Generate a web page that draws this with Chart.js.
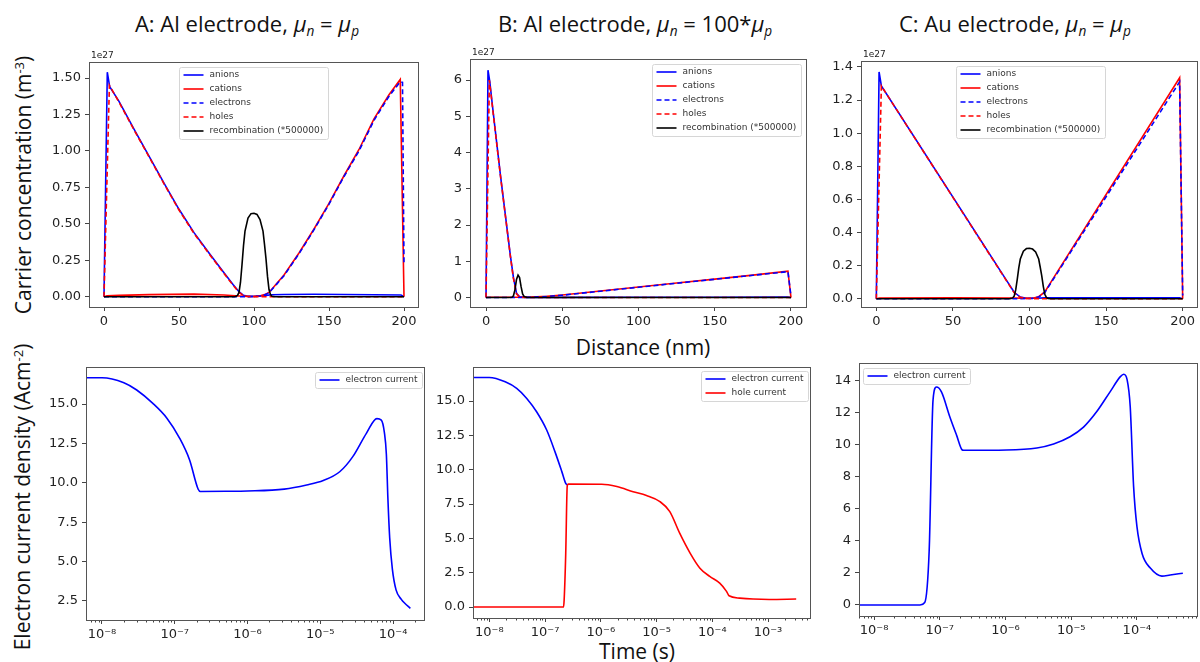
<!DOCTYPE html>
<html>
<head>
<meta charset="utf-8">
<script src="https://cdn.jsdelivr.net/npm/chart.js@4.4.0/dist/chart.umd.min.js"></script>
<style>
  body { margin: 0; width: 1200px; height: 662px; overflow: hidden; background: #fff; position: relative; font-family: 'Open Sans', sans-serif; }
  canvas { position: absolute; }
  .t { position: absolute; color: #111; white-space: nowrap; font-size: 21px; transform: translate(-50%, -50%); }
  .h { font-size: 22px; }
  .r { transform: translate(-50%, -50%) rotate(-90deg); }
  sub { font-size: 62%; vertical-align: -0.25em; }
  sup { font-size: 62%; vertical-align: 0.55em; }
</style>
</head>
<body>
<div class="t h" style="left:247px; top:24px;">A: Al electrode, <i>μ<sub>n</sub></i> = <i>μ<sub>p</sub></i></div>
<div class="t h" style="left:635px; top:24px;">B: Al electrode, <i>μ<sub>n</sub></i> = 100*<i>μ<sub>p</sub></i></div>
<div class="t h" style="left:1015px; top:24px;">C: Au electrode, <i>μ<sub>n</sub></i> = <i>μ<sub>p</sub></i></div>
<div class="t r" style="left:23px; top:185px;">Carrier concentration (m<sup>-3</sup>)</div>
<div class="t r" style="left:22px; top:497px;">Electron current density (Acm<sup>-2</sup>)</div>
<div class="t" style="left:643px; top:347px;">Distance (nm)</div>
<div class="t" style="left:637px; top:651px;">Time (s)</div>

<canvas id="ta"></canvas>
<canvas id="tb"></canvas>
<canvas id="tc"></canvas>
<canvas id="ba"></canvas>
<canvas id="bb"></canvas>
<canvas id="bc"></canvas>

<script>
// ---- data (concentrations in units of 1e27 m^-3, distance in nm) ----

// A: Al electrode, mu_n = mu_p
const A_anionsX = [0, 2.2, 3.8, 10, 20, 30, 40, 50, 60, 70, 80, 86, 90, 93, 96, 100, 104, 108, 112, 120, 140, 160, 180, 198, 200];
const A_anionsY = [0, 1.54, 1.44, 1.34, 1.15, 0.965, 0.78, 0.60, 0.44, 0.30, 0.165, 0.085, 0.035, 0.01, 0.003, 0.003, 0.006, 0.01, 0.014, 0.016, 0.017, 0.016, 0.014, 0.012, 0];
const A_cationsX = [0, 2, 10, 30, 60, 80, 90, 96, 100, 104, 107, 110, 115, 120, 130, 140, 150, 160, 170, 180, 190, 197.5, 200];
const A_cationsY = [0, 0.006, 0.01, 0.015, 0.018, 0.012, 0.005, 0.002, 0.002, 0.006, 0.015, 0.03, 0.09, 0.15, 0.30, 0.465, 0.64, 0.83, 1.01, 1.22, 1.385, 1.49, 0];
const A_electronsX = [0, 10, 50, 90, 96, 100, 104, 107, 110, 115, 120, 130, 140, 150, 160, 170, 180, 190, 197.5, 199, 200];
const A_electronsY = [0, 0, 0, 0, 0.001, 0.002, 0.005, 0.013, 0.027, 0.085, 0.145, 0.295, 0.46, 0.635, 0.825, 1.0, 1.21, 1.375, 1.475, 1.47, 0.22];
const A_holesX = [0, 3.6, 10, 20, 30, 40, 50, 60, 70, 80, 86, 90, 93, 96, 100, 104, 110, 200];
const A_holesY = [0, 1.45, 1.335, 1.145, 0.96, 0.775, 0.595, 0.435, 0.295, 0.16, 0.08, 0.03, 0.008, 0.002, 0.001, 0, 0, 0];
const A_recombX = [0, 80, 87, 88, 89, 90, 91, 92, 93, 94, 96, 98, 100, 102, 104, 106, 107, 108, 109, 110, 111, 112, 114, 200];
const A_recombY = [0, 0, 0, 0.003, 0.01, 0.03, 0.1, 0.22, 0.35, 0.45, 0.54, 0.57, 0.573, 0.565, 0.53, 0.45, 0.36, 0.26, 0.14, 0.05, 0.015, 0.004, 0, 0];

// B: Al electrode, mu_n = 100*mu_p
const B_anionsX = [0, 1.3, 2.5, 4.6, 9.4, 16, 18, 20, 22, 25, 50, 100, 150, 198, 200];
const B_anionsY = [0, 6.27, 5.95, 5.15, 3.4, 1.15, 0.55, 0.12, 0.02, 0.005, 0.006, 0.008, 0.01, 0.012, 0];
const B_cationsX = [0, 2, 20, 30, 40, 50, 75, 100, 125, 150, 175, 198, 200];
const B_cationsY = [0, 0.01, 0.01, 0.015, 0.035, 0.07, 0.18, 0.29, 0.40, 0.51, 0.62, 0.73, 0];
const B_electronsX = [0, 20, 30, 40, 50, 75, 100, 125, 150, 175, 198, 200];
const B_electronsY = [0, 0, 0.01, 0.03, 0.065, 0.175, 0.285, 0.395, 0.505, 0.615, 0.715, 0.04];
const B_holesX = [0, 2.2, 4.6, 9.4, 16, 18, 20, 22, 25, 200];
const B_holesY = [0, 6.0, 5.12, 3.38, 1.13, 0.52, 0.1, 0.015, 0.003, 0];
const B_recombX = [0, 15, 17, 18, 19, 20, 21, 22, 23, 24, 25, 27, 30, 200];
const B_recombY = [0, 0, 0.01, 0.05, 0.22, 0.5, 0.62, 0.55, 0.3, 0.1, 0.03, 0.003, 0, 0];

// C: Au electrode, mu_n = mu_p
const C_anionsX = [0, 1.8, 3.3, 85, 90, 94, 98, 104, 110, 150, 198, 200];
const C_anionsY = [0, 1.37, 1.285, 0.111, 0.039, 0.01, 0.003, 0.003, 0.005, 0.006, 0.006, 0];
const C_cationsX = [0, 2, 50, 90, 98, 102, 106, 110, 115, 198, 200];
const C_cationsY = [0, 0.004, 0.005, 0.004, 0.002, 0.003, 0.012, 0.041, 0.115, 1.335, 0];
const C_electronsX = [0, 90, 98, 102, 106, 110, 115, 198, 200];
const C_electronsY = [0, 0, 0.001, 0.002, 0.01, 0.038, 0.11, 1.31, 0.02];
const C_holesX = [0, 3.3, 85, 90, 94, 98, 102, 110, 200];
const C_holesY = [0, 1.285, 0.108, 0.036, 0.008, 0.002, 0.001, 0, 0];
const C_recombX = [0, 80, 87, 88, 89, 90, 91, 92, 93, 94, 96, 98, 100, 102, 104, 106, 107, 108, 109, 110, 111, 112, 114, 200];
const C_recombY = [0, 0, 0, 0.002, 0.005, 0.016, 0.053, 0.117, 0.186, 0.24, 0.287, 0.303, 0.305, 0.3, 0.282, 0.24, 0.19, 0.138, 0.075, 0.027, 0.008, 0.002, 0, 0];

// current density vs time (A cm^-2, s)
const A_timeE = [6.2e-9, 1e-8, 2e-8, 3e-8, 5e-8, 7.8e-8, 1.17e-7, 1.6e-7, 2.1e-7, 2.25e-7, 5e-7, 1e-6, 3.2e-6, 6.5e-6, 1.1e-5, 1.85e-5, 2.8e-5, 4.3e-5, 6e-5, 6.9e-5, 7.6e-5, 8.1e-5, 8.5e-5, 9e-5, 9.8e-5, 1.1e-4, 1.3e-4, 1.45e-4, 1.73e-4];
const A_currE = [16.67, 16.67, 16.35, 15.89, 15.04, 14.1, 12.82, 11.45, 9.59, 9.45, 9.46, 9.48, 9.6, 9.86, 10.14, 10.7, 11.66, 13.14, 14.07, 13.98, 13.2, 11.8, 9.0, 6.5, 4.5, 3.2, 2.6, 2.35, 2.03];

const B_timeE = [5.2e-9, 1e-8, 1.93e-8, 3.1e-8, 4.7e-8, 7.1e-8, 1.07e-7, 1.51e-7, 2e-7, 2.35e-7, 2.5e-7];
const B_currE = [16.72, 16.72, 16.4, 15.92, 15.19, 14.2, 12.89, 11.3, 9.86, 9.0, 8.9];
const B_timeH = [5.2e-9, 2.14e-7, 2.2e-7, 2.35e-7, 2.5e-7, 2.6e-7, 1.04e-6, 1.94e-6, 3.8e-6, 6.6e-6, 1.15e-5, 1.73e-5, 2.6e-5, 4e-5, 6e-5, 9e-5, 1.36e-4, 1.8e-4, 2.0e-4, 3.1e-4, 5.4e-4, 1.05e-3, 3.2e-3];
const B_currH = [0, 0, 0.5, 3.9, 8.8, 8.95, 8.94, 8.77, 8.4, 8.12, 7.68, 6.95, 5.38, 3.93, 2.83, 2.23, 1.74, 1.14, 0.82, 0.65, 0.58, 0.55, 0.58];

const C_timeE = [5.8e-9, 5e-8, 5.9e-8, 6.9e-8, 7.9e-8, 8.9e-8, 1.06e-7, 1.42e-7, 1.8e-7, 2.2e-7, 2.3e-7, 1.04e-6, 3e-6, 5.4e-6, 9.6e-6, 1.54e-5, 2.45e-5, 3.9e-5, 5.6e-5, 6.3e-5, 7.1e-5, 7.9e-5, 8.9e-5, 1e-4, 1.2e-4, 1.6e-4, 2.4e-4, 3.2e-4, 5e-4];
const C_currE = [0, 0, 0.15, 3.4, 12.8, 13.6, 13.3, 11.75, 10.6, 9.67, 9.65, 9.67, 9.8, 10.05, 10.5, 11.1, 12.07, 13.3, 14.25, 14.4, 14.05, 12.4, 7.4, 4.9, 3.2, 2.3, 1.8, 1.87, 1.98];

// tick values
const distTicks = [0, 50, 100, 150, 200];
const A_concTicks = [0, 0.25, 0.5, 0.75, 1.0, 1.25, 1.5];
const B_concTicks = [0, 1, 2, 3, 4, 5, 6];
const C_concTicks = [0, 0.2, 0.4, 0.6, 0.8, 1.0, 1.2, 1.4];
const A_currTicks = [2.5, 5, 7.5, 10, 12.5, 15];
const B_currTicks = [0, 2.5, 5, 7.5, 10, 12.5, 15];
const C_currTicks = [0, 2, 4, 6, 8, 10, 12, 14];

// ---- layout ----
const PAD_L = 70, PAD_T = 20, PAD_R = 25, PAD_B = 35;
const BLUE = '#0000ff', RED = '#ff0000', BLACK = '#000000';
const tickFont = { family: 'DejaVu Sans', size: 13 };
const SUP = { '-': '⁻', '0': '⁰', '1': '¹', '2': '²', '3': '³', '4': '⁴', '5': '⁵', '6': '⁶', '7': '⁷', '8': '⁸', '9': '⁹' };

// spines, minor log ticks, offset text and the matplotlib-style legend
const frame = {
    id: 'frame',
    afterDraw(chart, args, opts) {
        const { ctx, chartArea: a } = chart;
        const xs = chart.scales.x;
        ctx.save();
        ctx.strokeStyle = '#444';
        ctx.lineWidth = 1;
        if (xs.type === 'logarithmic') {
            for (let d = Math.floor(Math.log10(xs.min)); d <= Math.ceil(Math.log10(xs.max)); d++) {
                for (let k = 2; k <= 9; k++) {
                    const v = k * Math.pow(10, d);
                    if (v < xs.min || v > xs.max) continue;
                    const px = Math.round(xs.getPixelForValue(v)) + 0.5;
                    ctx.beginPath();
                    ctx.moveTo(px, a.bottom);
                    ctx.lineTo(px, a.bottom + 2.5);
                    ctx.stroke();
                }
            }
        }
        ctx.strokeStyle = '#555';
        ctx.strokeRect(Math.round(a.left) + 0.5, Math.round(a.top) + 0.5, Math.round(a.right - a.left) - 1, Math.round(a.bottom - a.top));

        if (opts.offset) {
            ctx.fillStyle = '#222';
            ctx.font = '9px "DejaVu Sans"';
            ctx.textBaseline = 'bottom';
            ctx.fillText(opts.offset, a.left + 2, a.top - 2);
        }

        const L = opts.legend;
        if (L) {
            const ds = chart.data.datasets;
            ctx.font = '9px "DejaVu Sans"';
            const tw = Math.max(...ds.map(d => ctx.measureText(d.label).width));
            const w = Math.round(30 + tw + 5), h = 16 + 14 * (ds.length - 1);
            const x0 = Math.round(L.right != null ? a.right - L.right - w : a.left + L.left) + 0.5;
            const y0 = Math.round(a.top + L.top) + 0.5;
            ctx.fillStyle = 'rgba(255,255,255,0.85)';
            ctx.strokeStyle = '#d6d6d6';
            ctx.beginPath();
            ctx.roundRect(x0, y0, w, h, 2);
            ctx.fill();
            ctx.stroke();
            ds.forEach((d, i) => {
                const y = y0 + 7.5 + 14 * i;
                ctx.strokeStyle = d.borderColor;
                ctx.lineWidth = d.borderWidth;
                ctx.setLineDash(d.borderDash || []);
                ctx.beginPath();
                ctx.moveTo(x0 + 4, y);
                ctx.lineTo(x0 + 24, y);
                ctx.stroke();
                ctx.setLineDash([]);
                ctx.fillStyle = '#333';
                ctx.textBaseline = 'middle';
                ctx.fillText(d.label, x0 + 30, y);
            });
        }
        ctx.restore();
    },
};

// smooth: monotone cubic between the read points (time curves); otherwise straight segments
function series(label, xs, ys, color, dash, order, smooth) {
    return {
        label,
        data: xs.map((x, i) => ({ x, y: ys[i] })),
        borderColor: color,
        borderWidth: 1.6,
        borderDash: dash || [],
        pointRadius: 0,
        fill: false,
        tension: 0,
        cubicInterpolationMode: smooth ? 'monotone' : 'default',
        order,
    };
}

function linX(min, max, ticks) {
    return {
        type: 'linear', min, max,
        border: { display: false },
        grid: { drawOnChartArea: false, tickLength: 4, color: '#444' },
        ticks: { font: tickFont, color: '#222', padding: 3, maxRotation: 0, autoSkip: false, callback: v => String(v) },
        afterBuildTicks: s => { s.ticks = ticks.map(v => ({ value: v })); },
        afterFit: s => { s.height = PAD_B; },
    };
}

function logX(min, max) {
    return {
        type: 'logarithmic', min, max,
        border: { display: false },
        grid: { drawOnChartArea: false, tickLength: 4, color: '#444' },
        ticks: {
            font: tickFont, color: '#222', padding: 3, maxRotation: 0, autoSkip: false,
            callback: v => '10' + String(Math.round(Math.log10(v))).split('').map(c => SUP[c]).join(''),
        },
        afterBuildTicks: s => {
            const t = [];
            for (let d = Math.ceil(Math.log10(min)); d <= Math.floor(Math.log10(max)); d++) t.push({ value: Math.pow(10, d) });
            s.ticks = t;
        },
        afterFit: s => { s.height = PAD_B; },
    };
}

function linY(min, max, ticks, digits) {
    return {
        type: 'linear', min, max,
        border: { display: false },
        grid: { drawOnChartArea: false, tickLength: 4, color: '#444' },
        ticks: { font: tickFont, color: '#222', padding: 4, autoSkip: false, callback: v => Number(v).toFixed(digits) },
        afterBuildTicks: s => { s.ticks = ticks.map(v => ({ value: v })); },
        afterFit: s => { s.width = PAD_L; },
    };
}

function makePanel(id, r, datasets, xScale, yScale, extra) {
    const cv = document.getElementById(id);
    cv.width = r.right - r.left + PAD_L + PAD_R;
    cv.height = r.bottom - r.top + PAD_T + PAD_B;
    cv.style.left = (r.left - PAD_L) + 'px';
    cv.style.top = (r.top - PAD_T) + 'px';
    new Chart(cv, {
        type: 'line',
        data: { datasets },
        options: {
            responsive: false,
            animation: false,
            events: [],
            layout: { padding: { left: 0, top: PAD_T, right: PAD_R, bottom: 0 } },
            plugins: { legend: { display: false }, tooltip: { enabled: false }, frame: extra },
            scales: { x: xScale, y: yScale },
        },
        plugins: [frame],
    });
}

function concSets(p) {
    return [
        series('anions', p[0], p[1], BLUE, null, 4),
        series('cations', p[2], p[3], RED, null, 3),
        series('electrons', p[4], p[5], BLUE, [5, 3], 2),
        series('holes', p[6], p[7], RED, [5, 3], 1),
        series('recombination (*500000)', p[8], p[9], BLACK, null, 0),
    ];
}

window.onload = () => {
    makePanel('ta', { left: 89, top: 62, right: 419, bottom: 307 },
        concSets([A_anionsX, A_anionsY, A_cationsX, A_cationsY, A_electronsX, A_electronsY, A_holesX, A_holesY, A_recombX, A_recombY]),
        linX(-10, 210, distTicks), linY(-0.07, 1.61, A_concTicks, 2),
        { offset: '1e27', legend: { left: 90, top: 5 } });

    makePanel('tb', { left: 470, top: 59, right: 807, bottom: 307 },
        concSets([B_anionsX, B_anionsY, B_cationsX, B_cationsY, B_electronsX, B_electronsY, B_holesX, B_holesY, B_recombX, B_recombY]),
        linX(-10.5, 210.5, distTicks), linY(-0.26, 6.58, B_concTicks, 0),
        { offset: '1e27', legend: { right: 6, top: 5 } });

    makePanel('tc', { left: 861, top: 61, right: 1198, bottom: 307 },
        concSets([C_anionsX, C_anionsY, C_cationsX, C_cationsY, C_electronsX, C_electronsY, C_holesX, C_holesY, C_recombX, C_recombY]),
        linX(-10, 210, distTicks), linY(-0.05, 1.436, C_concTicks, 1),
        { offset: '1e27', legend: { left: 95, top: 5 } });

    makePanel('ba', { left: 86, top: 367, right: 425, bottom: 620 },
        [series('electron current', A_timeE, A_currE, BLUE, null, 0, true)],
        logX(6.03e-9, 2.75e-4), linY(1.29, 17.35, A_currTicks, 1),
        { legend: { right: 3, top: 5 } });

    makePanel('bb', { left: 473, top: 367, right: 811, bottom: 618 },
        [series('electron current', B_timeE, B_currE, BLUE, null, 1, true), series('hole current', B_timeH, B_currH, RED, null, 0, true)],
        logX(5.1e-9, 5.9e-3), linY(-0.8, 17.48, B_currTicks, 1),
        { legend: { right: 3, top: 4 } });

    makePanel('bc', { left: 859, top: 363, right: 1198, bottom: 616 },
        [series('electron current', C_timeE, C_currE, BLUE, null, 0, true)],
        logX(5.9e-9, 8.5e-4), linY(-0.69, 15.1, C_currTicks, 0),
        { legend: { left: 4, top: 5 } });
};
</script>
</body>
</html>
